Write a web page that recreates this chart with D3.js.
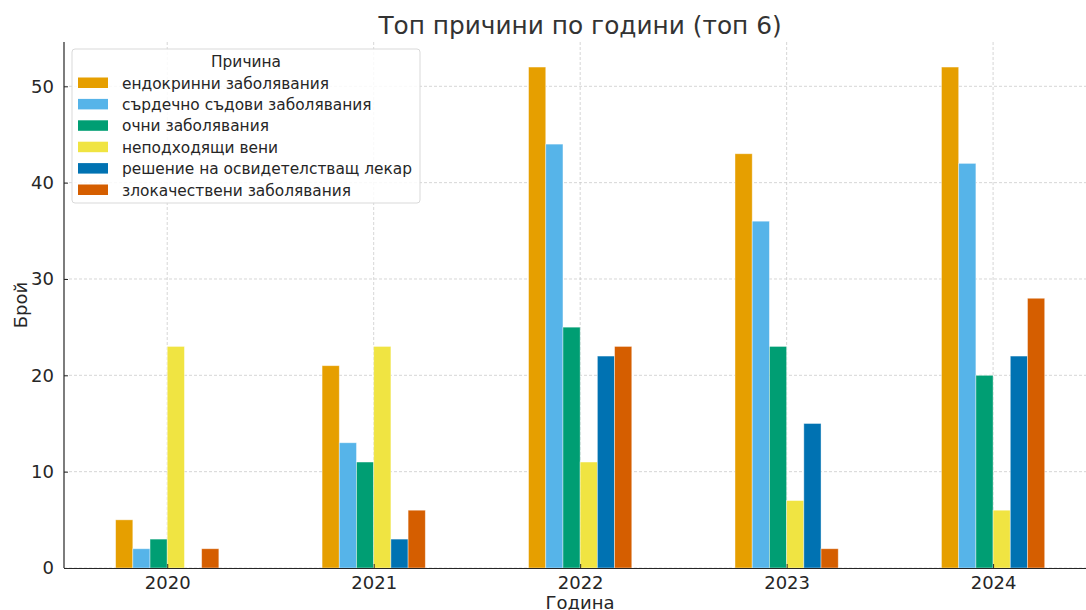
<!DOCTYPE html>
<html>
<head>
<meta charset="utf-8">
<script src="https://cdn.jsdelivr.net/npm/d3@7"></script>
<style>
  body { margin: 0; background: #fff; }
  text { font-family: "DejaVu Sans", sans-serif; fill: #262626; }
</style>
</head>
<body>
<svg id="chart" width="1086" height="610"></svg>
<script>
var years = ['2020', '2021', '2022', '2023', '2024'];
var causes = [
    'ендокринни заболявания',
    'сърдечно съдови заболявания',
    'очни заболявания',
    'неподходящи вени',
    'решение на освидетелстващ лекар',
    'злокачествени заболявания'
];
var colors = ['#E69F00', '#56B4E9', '#009E73', '#F0E442', '#0072B2', '#D55E00'];
// стойности по причина, в реда на годините
var endocrine = [5, 21, 52, 43, 52];
var cardio = [2, 13, 44, 36, 42];
var eye = [3, 11, 25, 23, 20];
var veins = [23, 23, 11, 7, 6];
var doctor = [0, 3, 22, 15, 22];
var malignant = [2, 6, 23, 2, 28];
var series = [endocrine, cardio, eye, veins, doctor, malignant];
var yTicks = [0, 10, 20, 30, 40, 50];

var svg = d3.select('#chart');
var plotLeft = 64, plotTop = 42, plotBottom = 568, plotRight = 1086;

var x = d3.scaleLinear().domain([-0.5, 4.45]).range([plotLeft, plotRight]);
var y = d3.scaleLinear().domain([0, 54.6]).range([plotBottom, plotTop]);
var barW = x(1 / 12) - x(0);

//网格
var grid = svg.append('g').attr('stroke', '#cccccc').attr('stroke-width', 0.8).attr('stroke-dasharray', '3,2');
yTicks.forEach(function (t) {
    grid.append('line').attr('x1', plotLeft).attr('x2', plotRight).attr('y1', y(t)).attr('y2', y(t));
});
years.forEach(function (yr, i) {
    grid.append('line').attr('x1', x(i)).attr('x2', x(i)).attr('y1', plotTop).attr('y2', plotBottom);
});

//柱子
series.forEach(function (vals, j) {
    svg.append('g').selectAll('rect').data(vals).enter().append('rect')
        .attr('x', function (d, i) { return x(i + (j - 2.5) / 12) - barW / 2; })
        .attr('y', function (d) { return y(d); })
        .attr('width', barW)
        .attr('height', function (d) { return plotBottom - y(d); })
        .attr('fill', colors[j])
        .attr('stroke', function (d) { return d > 0 ? '#ffffff' : 'none'; })
        .attr('stroke-opacity', 0.5)
        .attr('stroke-width', 0.8);
});

//坐标轴
var yAxis = d3.axisLeft(y).tickValues(yTicks).tickSizeInner(-4).tickSizeOuter(0).tickPadding(10);
var gy = svg.append('g').attr('transform', 'translate(' + plotLeft + ',0)').call(yAxis);
var xAxis = d3.axisBottom(x).tickValues([0, 1, 2, 3, 4]).tickFormat(function (d) { return years[d]; })
    .tickSizeInner(-4).tickSizeOuter(0).tickPadding(8);
var gx = svg.append('g').attr('transform', 'translate(0,' + plotBottom + ')').call(xAxis);
[gx, gy].forEach(function (g) {
    g.select('.domain').attr('stroke', '#262626').attr('stroke-width', 1.2);
    g.selectAll('.tick line').attr('stroke', '#262626').attr('stroke-width', 1);
    g.selectAll('.tick text').attr('font-size', 18).attr('font-family', '"DejaVu Sans", sans-serif').attr('fill', '#262626');
});
gy.select('.domain').attr('d', 'M0,' + plotTop + 'V' + plotBottom);

//标题
svg.append('text').attr('x', 580).attr('y', 34).attr('text-anchor', 'middle')
    .attr('font-size', 24.8).style('fill', '#333').text('Топ причини по години (топ 6)');
svg.append('text').attr('x', 580).attr('y', 609).attr('text-anchor', 'middle')
    .attr('font-size', 18).text('Година');
svg.append('text').attr('transform', 'translate(27,305) rotate(-90)').attr('text-anchor', 'middle')
    .attr('font-size', 18).text('Брой');

//图例
var legend = svg.append('g').attr('transform', 'translate(72,49)');
legend.append('rect').attr('width', 348).attr('height', 154).attr('rx', 3)
    .attr('fill', '#fff').attr('fill-opacity', 0.85).attr('stroke', '#d9d9d9').attr('stroke-width', 1);
legend.append('text').attr('x', 174).attr('y', 18).attr('text-anchor', 'middle')
    .attr('font-size', 15.4).text('Причина');
causes.forEach(function (c, j) {
    var ly = 34 + j * 21.4;
    legend.append('rect').attr('x', 6).attr('y', ly - 5.5).attr('width', 30).attr('height', 10.5).attr('fill', colors[j]);
    legend.append('text').attr('x', 50).attr('y', ly + 5.5).attr('font-size', 15.4).text(c);
});
</script>
</body>
</html>
